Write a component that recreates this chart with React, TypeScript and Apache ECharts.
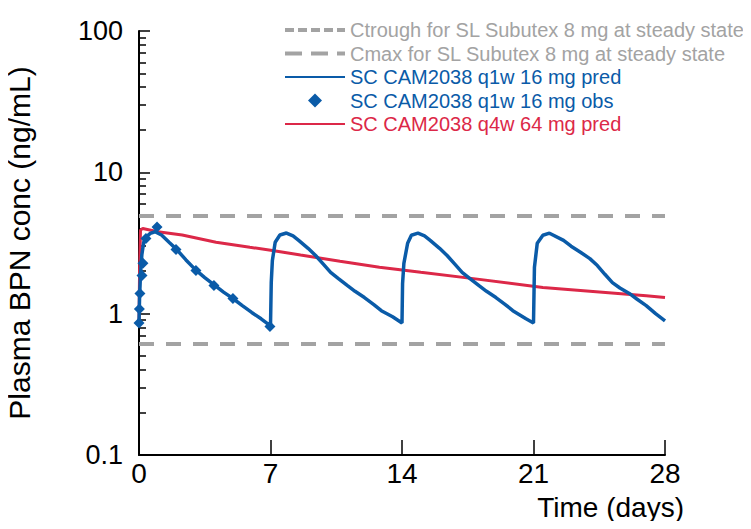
import React, { useEffect, useRef } from "react";
import * as echarts from "echarts";

// ---- data ----
const ctroughValue = 0.61; // Ctrough for SL Subutex 8 mg at steady state (ng/mL)
const cmaxValue = 4.9; // Cmax for SL Subutex 8 mg at steady state (ng/mL)

// SC CAM2038 q1w 16 mg predicted (time in days, conc ng/mL)
const q1wPredTime = [
  0, 0.03, 0.08, 0.15, 0.25, 0.4, 0.6, 0.85, 1.2, 1.6, 2.0, 2.5, 3.0, 3.5, 4.0, 4.5, 5.0, 5.5, 6.0, 6.5, 7.0,
  7.04, 7.1, 7.25, 7.5, 7.85, 8.2, 8.5, 9.0, 9.4, 9.8, 10.2, 10.6, 11.1, 11.5, 12.0, 12.5, 12.9, 13.5, 14.0,
  14.03, 14.1, 14.3, 14.5, 14.85, 15.2, 15.5, 16.0, 16.4, 16.8, 17.2, 17.6, 18.1, 18.5, 19.0, 19.5, 19.9, 20.6, 21.0,
  21.05, 21.2, 21.5, 21.85, 22.6, 23.0, 23.5, 24.0, 24.4, 24.8, 25.2, 25.6, 26.1, 26.5, 27.0, 27.5, 28.0,
];
const q1wPredConc = [
  0.85, 1.3, 1.9, 2.6, 3.2, 3.5, 3.7, 3.8, 3.6, 3.2, 2.85, 2.4, 2.05, 1.8, 1.6, 1.42, 1.28, 1.14, 1.02, 0.92, 0.82,
  1.66, 2.38, 3.2, 3.6, 3.72, 3.55, 3.3, 2.9, 2.58, 2.25, 1.96, 1.78, 1.58, 1.44, 1.3, 1.16, 1.05, 0.95, 0.86,
  1.63, 2.27, 3.15, 3.59, 3.71, 3.55, 3.3, 2.9, 2.58, 2.25, 1.96, 1.78, 1.58, 1.44, 1.3, 1.16, 1.05, 0.92, 0.86,
  2.13, 3.15, 3.59, 3.71, 3.3, 3.0, 2.72, 2.45, 2.19, 1.9, 1.66, 1.52, 1.39, 1.27, 1.14, 1.0, 0.89,
];

// SC CAM2038 q1w 16 mg observed
const q1wObsTime = [0, 0.02, 0.05, 0.16, 0.21, 0.37, 0.96, 1.97, 3.03, 3.99, 5.0, 6.97];
const q1wObsConc = [0.86, 1.08, 1.39, 1.86, 2.27, 3.4, 4.1, 2.85, 2.02, 1.58, 1.28, 0.81];

// SC CAM2038 q4w 64 mg predicted
const q4wPredTime = [0, 0.03, 0.08, 0.2, 1.0, 2.3, 4.1, 5.9, 7.1, 8.6, 10.7, 12.8, 15.0, 17.8, 21.5, 23.5, 26.0, 27.0, 28.0];
const q4wPredConc = [0.85, 2.0, 3.9, 4.0, 3.8, 3.6, 3.2, 2.95, 2.8, 2.6, 2.35, 2.13, 1.96, 1.77, 1.53, 1.46, 1.37, 1.34, 1.3];

const xTicks = [0, 7, 14, 21, 28];
const yMajorTicks = [0.1, 1, 10, 100];
const yMinorTicks = [0.2, 0.3, 0.4, 0.5, 0.6, 0.7, 0.8, 0.9, 2, 3, 4, 5, 6, 7, 8, 9, 20, 30, 40, 50, 60, 70, 80, 90];

const names = {
  ctrough: "Ctrough for SL Subutex 8 mg at steady state",
  cmax: "Cmax for SL Subutex 8 mg at steady state",
  pred1: "SC CAM2038 q1w 16 mg pred",
  obs1: "SC CAM2038 q1w 16 mg obs",
  pred4: "SC CAM2038 q4w 64 mg pred",
};

const BLUE = "#0a5ba8";
const RED = "#dc2848";
const GRAY = "#a3a3a3";
const FONT = "'Liberation Sans', Arial, Helvetica, sans-serif";

export default function App() {
  const ref = useRef<HTMLDivElement>(null);
  useEffect(() => {
    if (!ref.current) return;
    const chart = echarts.init(ref.current, null, { renderer: "svg" });
    const zip = (a: number[], b: number[]) => a.map((t, i) => [t, b[i]]);
    chart.setOption({
      animation: false,
      textStyle: { fontFamily: FONT },
      grid: { left: 139, right: 86, top: 31, bottom: 74, containLabel: false, outerBoundsMode: "none" },
      legend: {
        orient: "vertical",
        left: 283,
        top: 20,
        padding: 0,
        itemWidth: 60,
        itemHeight: 14,
        itemGap: 3.5,
        selectedMode: false,
        textStyle: { fontFamily: FONT, fontSize: 20, lineHeight: 20 },
        data: [
          {
            name: names.ctrough,
            textStyle: { color: GRAY },
            itemStyle: { opacity: 0 },
            lineStyle: { type: [9, 4], width: 4, color: GRAY },
          },
          {
            name: names.cmax,
            textStyle: { color: GRAY },
            itemStyle: { opacity: 0 },
            lineStyle: { type: [17, 9], width: 4, color: GRAY },
          },
          { name: names.pred1, textStyle: { color: BLUE }, itemStyle: { opacity: 0 } },
          {
            name: names.obs1,
            textStyle: { color: BLUE },
            icon: "path://M0,-1L1,0L0,1L-1,0Z",
            itemStyle: { color: BLUE, opacity: 1 },
          },
          { name: names.pred4, textStyle: { color: RED }, itemStyle: { opacity: 0 } },
        ],
      },
      xAxis: {
        type: "value",
        min: 0,
        max: 28,
        interval: 7,
        axisLine: { lineStyle: { color: "#000", width: 2 } },
        axisTick: { inside: true, length: 15, lineStyle: { color: "#000", width: 1.5 } },
        axisLabel: {
          fontSize: 28,
          color: "#000",
          margin: 4,
          fontFamily: FONT,
          customValues: xTicks,
        },
        splitLine: { show: false },
      },
      yAxis: [
        {
          type: "log",
          logBase: 10,
          min: 0.1,
          max: 100,
          axisLine: { show: true, lineStyle: { color: "#000", width: 2 } },
          axisTick: {
            show: true,
            inside: true,
            length: 11,
            customValues: yMajorTicks,
            lineStyle: { color: "#000", width: 1.5 },
          },
          axisLabel: { fontSize: 27, color: "#000", margin: 16, fontFamily: FONT, customValues: yMajorTicks },
          splitLine: { show: false },
          name: "Plasma BPN conc (ng/mL)",
          nameLocation: "middle",
          nameRotate: 90,
          nameGap: 105,
          nameTextStyle: { fontSize: 30, color: "#000", fontFamily: FONT },
        },
        {
          type: "log",
          logBase: 10,
          min: 0.1,
          max: 100,
          position: "left",
          offset: 0,
          axisLine: { show: false },
          axisTick: {
            show: true,
            inside: true,
            length: 7,
            customValues: yMinorTicks,
            lineStyle: { color: "#000", width: 1.5 },
          },
          axisLabel: { show: false },
          splitLine: { show: false },
        },
      ],
      graphic: [
        {
          type: "text",
          x: 684,
          y: 507,
          style: {
            text: "Time (days)",
            fontSize: 28,
            fontFamily: FONT,
            fill: "#000",
            align: "right",
            verticalAlign: "middle",
          },
        },
      ],
      series: [
        {
          name: names.ctrough,
          type: "line",
          data: [[0, ctroughValue], [28, ctroughValue]],
          symbol: "none",
          color: GRAY,
          lineStyle: { color: GRAY, width: 4, type: [15, 12] },
        },
        {
          name: names.cmax,
          type: "line",
          data: [[0, cmaxValue], [28, cmaxValue]],
          symbol: "none",
          color: GRAY,
          lineStyle: { color: GRAY, width: 4, type: [15, 12] },
        },
        {
          name: names.pred4,
          type: "line",
          data: zip(q4wPredTime, q4wPredConc),
          symbol: "none",
          color: RED,
          lineStyle: { color: RED, width: 3 },
          z: 3,
        },
        {
          name: names.pred1,
          type: "line",
          data: zip(q1wPredTime, q1wPredConc),
          symbol: "none",
          color: BLUE,
          lineStyle: { color: BLUE, width: 3.5 },
          z: 4,
        },
        {
          name: names.obs1,
          type: "scatter",
          data: zip(q1wObsTime, q1wObsConc),
          symbol: "diamond",
          symbolSize: 11,
          color: BLUE,
          itemStyle: { color: BLUE, opacity: 1 },
          clip: false,
          z: 5,
        },
      ],
    });
    return () => chart.dispose();
  }, []);
  return <div ref={ref} style={{ width: 751, height: 529, margin: -8 }} />;
}
